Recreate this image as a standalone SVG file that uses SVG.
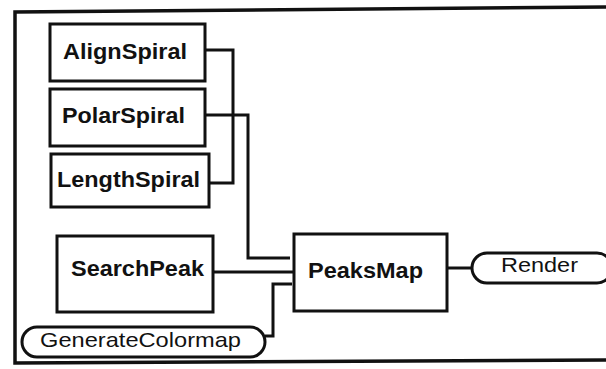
<svg xmlns="http://www.w3.org/2000/svg" width="606" height="369" viewBox="0 0 606 369">
<style>
.box{fill:#fff;stroke:#111;stroke-width:3}
.pill{fill:#fff;stroke:#111;stroke-width:3}
.wire{fill:none;stroke:#111;stroke-width:3}
.b{font-family:"Liberation Sans",Arial,sans-serif;font-weight:bold;font-size:22px;fill:#111}
.r{font-family:"Liberation Sans",Arial,sans-serif;font-size:21px;fill:#111}
</style>
<rect width="606" height="369" fill="#fff"/>
<path d="M606,7 L15,12 L15,363 L606,360" fill="none" stroke="#111" stroke-width="3.5"/>
<g id="connectors">
<path class="wire" d="M205,50 H233 V183 H209"/>
<path class="wire" d="M205,115 H248 V258 H290"/>
<path class="wire" d="M213,272 H294"/>
<path class="wire" d="M265,336 H273 V284 H292"/>
<path class="wire" d="M447,268 H472"/>
</g>
<g id="AlignSpiral"><rect class="box" x="50" y="24" width="155" height="57"/><text class="b" x="63" y="59" textLength="124" lengthAdjust="spacingAndGlyphs">AlignSpiral</text></g>
<g id="PolarSpiral"><rect class="box" x="50" y="89" width="155" height="57"/><text class="b" x="62" y="123" textLength="123" lengthAdjust="spacingAndGlyphs">PolarSpiral</text></g>
<g id="LengthSpiral"><rect class="box" x="51" y="154" width="158" height="53"/><text class="b" x="57" y="187" textLength="143" lengthAdjust="spacingAndGlyphs">LengthSpiral</text></g>
<g id="SearchPeak"><rect class="box" x="57" y="236" width="156" height="76"/><text class="b" x="71" y="276" textLength="133" lengthAdjust="spacingAndGlyphs">SearchPeak</text></g>
<g id="PeaksMap"><rect class="box" x="294" y="234" width="153" height="77"/><text class="b" x="308" y="278" textLength="115" lengthAdjust="spacingAndGlyphs">PeaksMap</text></g>
<g id="Render"><rect class="pill" x="472" y="253" width="140" height="30" rx="15" ry="15"/><text class="r" x="501" y="272" textLength="77" lengthAdjust="spacingAndGlyphs">Render</text></g>
<g id="GenerateColormap"><rect class="pill" x="22" y="327" width="243" height="30" rx="15" ry="15"/><text class="r" x="40" y="347" textLength="201" lengthAdjust="spacingAndGlyphs">GenerateColormap</text></g>
</svg>
